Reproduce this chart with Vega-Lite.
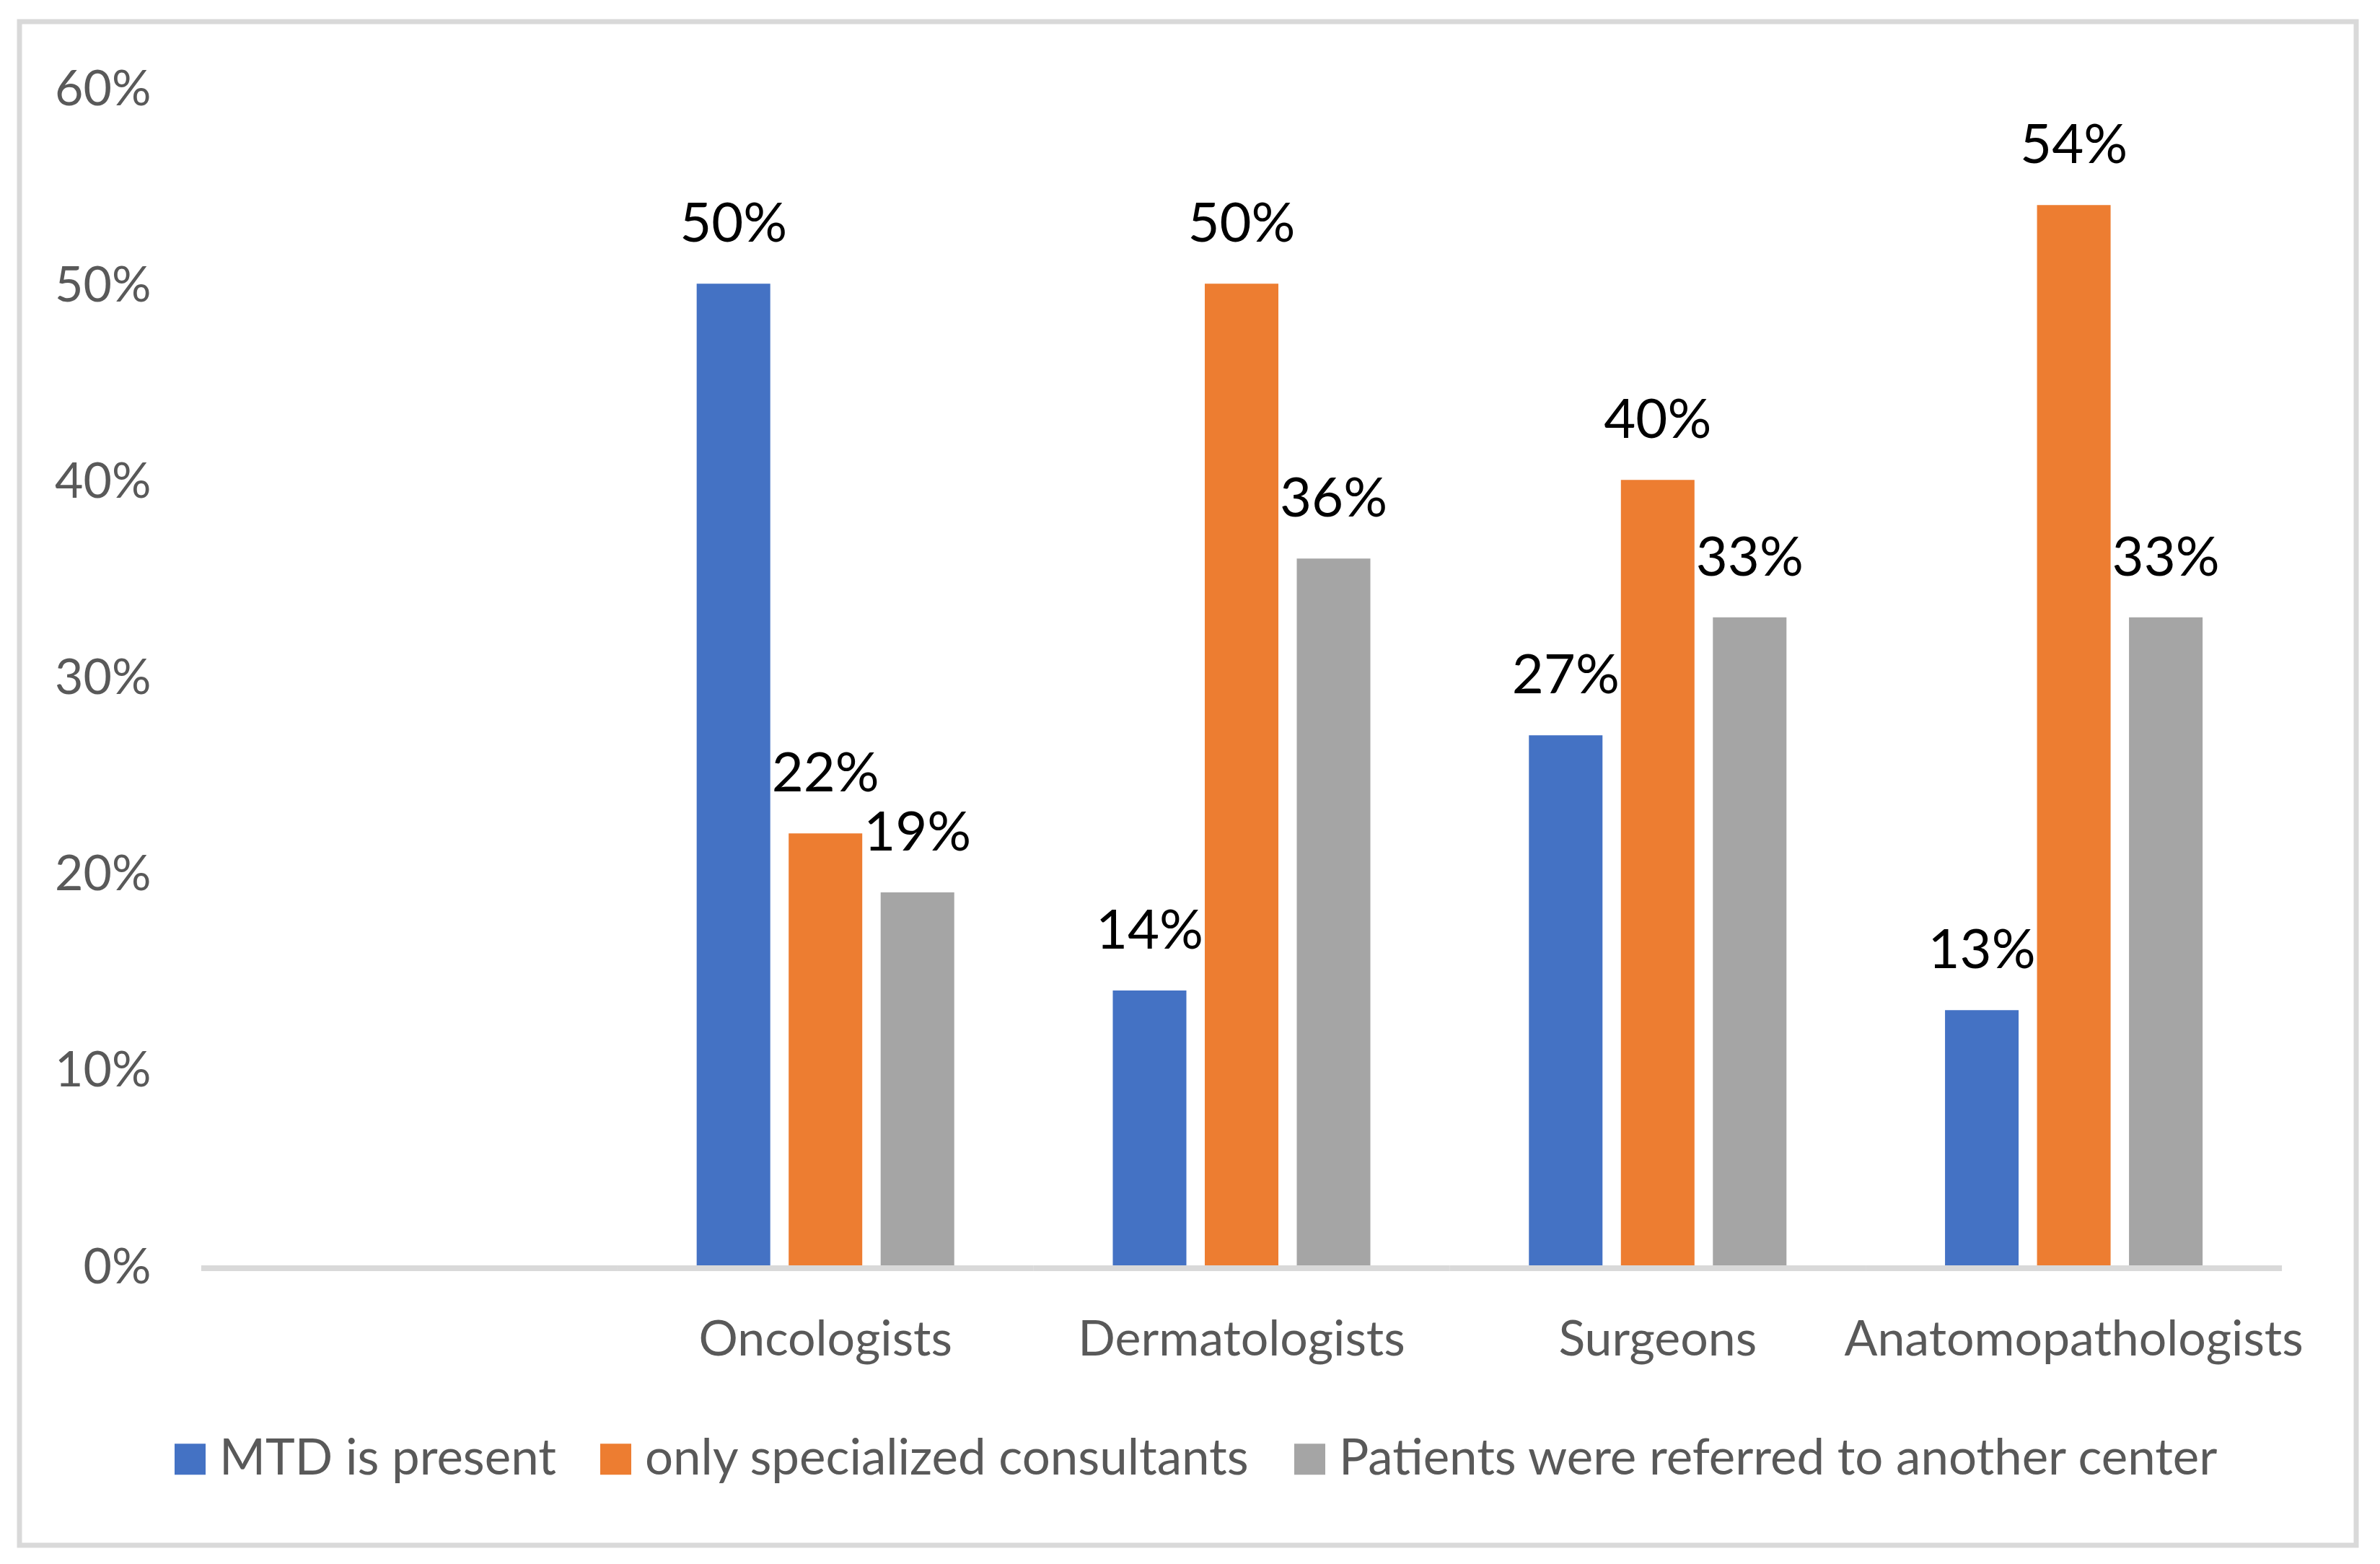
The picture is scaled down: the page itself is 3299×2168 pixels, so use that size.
{
  "$schema": "https://vega.github.io/schema/vega-lite/v6.json",
  "width": 3239,
  "height": 2112,
  "autosize": {"type": "none"},
  "padding": {"left": 27, "top": 30, "right": 33, "bottom": 26},
  "background": "white",
  "config": {
    "view": {"stroke": "#D9D9D9", "strokeWidth": 7},
    "font": "Lato"
  },
  "datasets": {
    "bars": [
      {"Group": "Oncologists", "Series": "MTD is present", "Value": 0.50},
      {"Group": "Oncologists", "Series": "only specialized consultants", "Value": 0.22},
      {"Group": "Oncologists", "Series": "Patients were referred to another center", "Value": 0.19},
      {"Group": "Dermatologists", "Series": "MTD is present", "Value": 0.14},
      {"Group": "Dermatologists", "Series": "only specialized consultants", "Value": 0.50},
      {"Group": "Dermatologists", "Series": "Patients were referred to another center", "Value": 0.36},
      {"Group": "Surgeons", "Series": "MTD is present", "Value": 0.27},
      {"Group": "Surgeons", "Series": "only specialized consultants", "Value": 0.40},
      {"Group": "Surgeons", "Series": "Patients were referred to another center", "Value": 0.33},
      {"Group": "Anatomopathologists", "Series": "MTD is present", "Value": 0.13},
      {"Group": "Anatomopathologists", "Series": "only specialized consultants", "Value": 0.54},
      {"Group": "Anatomopathologists", "Series": "Patients were referred to another center", "Value": 0.33}
    ],
    "cats": [
      {"Group": " "},
      {"Group": "Oncologists"},
      {"Group": "Dermatologists"},
      {"Group": "Surgeons"},
      {"Group": "Anatomopathologists"}
    ]
  },
  "encoding": {
    "x": {
      "field": "Group",
      "type": "nominal",
      "sort": null,
      "title": null,
      "scale": {
        "domain": [" ", "Oncologists", "Dermatologists", "Surgeons", "Anatomopathologists"],
        "paddingInner": 0.381,
        "paddingOuter": 0.49826,
        "align": 0.6296
      },
      "axis": {
        "title": null,
        "domain": false,
        "ticks": false,
        "tickSize": 0,
        "grid": false,
        "offset": -384,
        "labelPadding": 120,
        "labelBaseline": "alphabetic",
        "labelAngle": 0,
        "labelFont": "Lato",
        "labelFontSize": 68,
        "labelColor": "#595959",
        "labelOverlap": false,
        "labelBound": false,
        "labelLimit": 3000
      }
    }
  },
  "layer": [
    {
      "data": {"name": "cats"},
      "mark": {"type": "tick", "color": "#D9D9D9", "thickness": 8, "size": 577, "yOffset": 4, "opacity": 1},
      "encoding": {
        "y": {"datum": 0, "type": "quantitative"}
      }
    },
    {
      "data": {"name": "bars"},
      "mark": {"type": "bar"},
      "encoding": {
        "y": {
          "field": "Value",
          "type": "quantitative",
          "title": null,
          "scale": {"domain": [-0.14256, 0.63344], "nice": false, "zero": false},
          "axis": {
            "title": null,
            "domain": false,
            "ticks": false,
            "tickSize": 0,
            "grid": false,
            "offset": -252,
            "labelPadding": 70,
            "values": [0, 0.1, 0.2, 0.3, 0.4, 0.5, 0.6],
            "format": ".0%",
            "labelFont": "Lato",
            "labelFontSize": 68,
            "labelColor": "#595959",
            "labelBaseline": "alphabetic",
            "labelOffset": 24,
            "labelOverlap": false,
            "labelBound": false
          }
        },
        "xOffset": {
          "field": "Series",
          "type": "nominal",
          "sort": null,
          "scale": {
            "domain": ["MTD is present", "only specialized consultants", "Patients were referred to another center"],
            "paddingInner": 0.2,
            "paddingOuter": 0
          }
        },
        "color": {
          "field": "Series",
          "type": "nominal",
          "sort": null,
          "scale": {
            "domain": ["MTD is present", "only specialized consultants", "Patients were referred to another center"],
            "range": ["#4472C4", "#ED7D31", "#A5A5A5"]
          },
          "legend": {
            "orient": "none",
            "legendX": 202,
            "legendY": 1958,
            "direction": "horizontal",
            "title": null,
            "padding": 0,
            "symbolType": "square",
            "symbolSize": 1849,
            "symbolStrokeWidth": 0,
            "symbolOpacity": 1,
            "labelFont": "Lato",
            "labelFontSize": 69,
            "labelColor": "#595959",
            "labelLimit": 3000,
            "labelOffset": 6,
            "columnPadding": 48
          }
        }
      }
    },
    {
      "data": {"name": "bars"},
      "mark": {"type": "text", "baseline": "alphabetic", "dy": -58, "font": "Lato", "fontSize": 76, "color": "#000000"},
      "encoding": {
        "y": {"field": "Value", "type": "quantitative", "title": null},
        "xOffset": {
          "field": "Series",
          "type": "nominal",
          "sort": null,
          "scale": {
            "domain": ["MTD is present", "only specialized consultants", "Patients were referred to another center"],
            "paddingInner": 0.2,
            "paddingOuter": 0
          }
        },
        "text": {"field": "Value", "type": "quantitative", "format": ".0%"}
      }
    }
  ]
}
